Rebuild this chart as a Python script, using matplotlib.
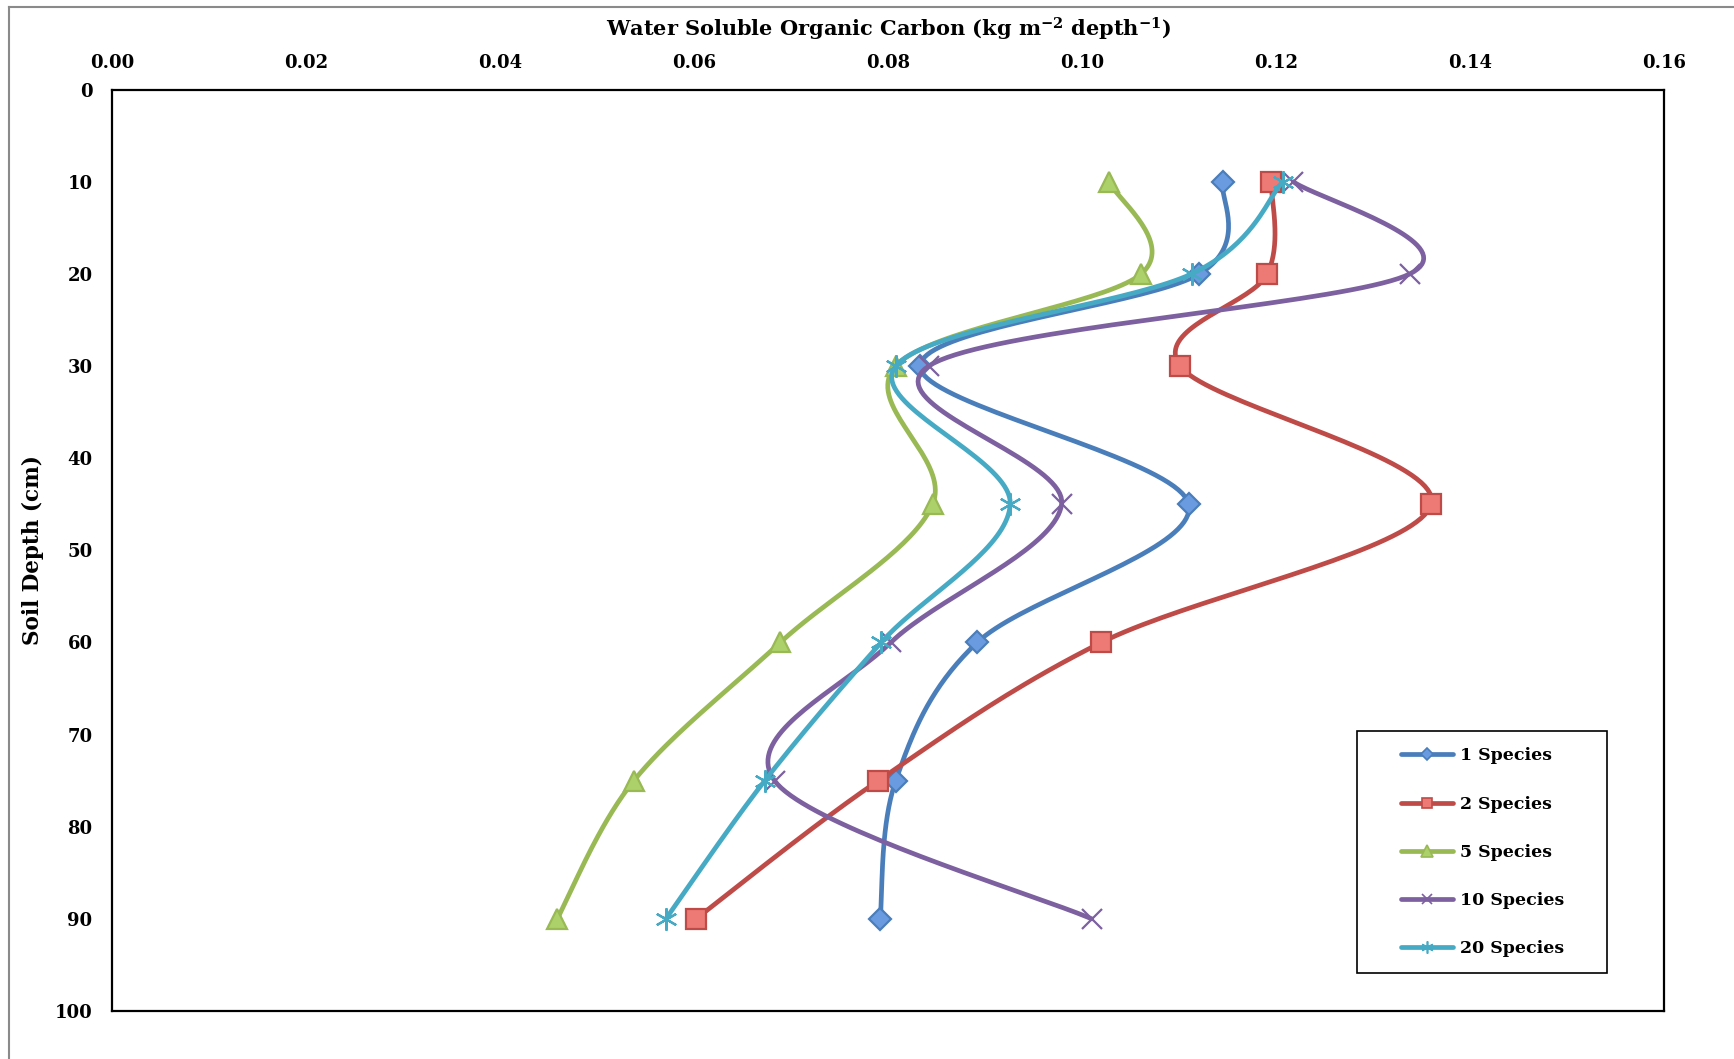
import numpy as np
import matplotlib
matplotlib.use("Agg")
import matplotlib.pyplot as plt
from matplotlib.lines import Line2D
from matplotlib.patches import Rectangle

# Data
depth = [10, 20, 30, 45, 60, 75, 90]
sp1 = [0.1145, 0.1121, 0.0833, 0.1110, 0.0892, 0.0808, 0.0792]
sp2 = [0.1195, 0.1191, 0.1101, 0.1360, 0.1020, 0.0790, 0.0602]
sp5 = [0.1028, 0.1061, 0.0808, 0.0846, 0.0689, 0.0538, 0.0459]
sp10 = [0.1218, 0.1338, 0.0842, 0.0979, 0.0803, 0.0683, 0.1010]
sp20 = [0.1207, 0.1113, 0.0808, 0.0926, 0.0793, 0.0673, 0.0571]
labels = ["1 Species", "2 Species", "5 Species", "10 Species", "20 Species"]

plt.rcParams['font.family'] = ['DejaVu Serif']
plt.rcParams['font.weight'] = 'bold'
plt.rcParams['mathtext.fontset'] = 'dejavuserif'

W, H = 1734, 1059
fig = plt.figure(figsize=(W / 100, H / 100), dpi=100)
ax = fig.add_axes([112 / W, 1 - 1011 / H, (1664 - 112) / W, (1011 - 89.6) / H])
ax.set_xlim(0, 0.16)
ax.set_ylim(100, 0)


def smooth(xs, ys, n=40):
    """Excel-like smoothed line (Catmull-Rom bezier in screen space)"""
    pts = ax.transData.transform(np.column_stack([xs, ys]))
    P = np.vstack([pts[0], pts, pts[-1]])
    t = np.linspace(0, 1, n)[:, None]
    segs = []
    for i in range(1, len(P) - 2):
        p0, p1, p2, p3 = P[i - 1], P[i], P[i + 1], P[i + 2]
        c1 = p1 + (p2 - p0) / 6
        c2 = p2 - (p3 - p1) / 6
        segs.append((1 - t) ** 3 * p1 + 3 * (1 - t) ** 2 * t * c1
                    + 3 * (1 - t) * t ** 2 * c2 + t ** 3 * p2)
    curve = ax.transData.inverted().transform(np.vstack(segs))
    return curve[:, 0], curve[:, 1]


series = [sp1, sp2, sp5, sp10, sp20]
line_cols = ['#4A7EBB', '#BE4B48', '#98B954', '#7D60A0', '#46AAC5']
face_cols = ['#6A9BE0', '#EE7A76', '#ADD16A', '#7D60A0', '#46AAC5']
markers = ['D', 's', '^', 'x', (6, 2, 0)]
msizes = [11, 14, 14.5, 14, 16]

handles = []
for i, vals in enumerate(series):
    sx, sy = smooth(vals, depth)
    ax.plot(sx, sy, color=line_cols[i], lw=3.4, solid_capstyle='round',
            zorder=2 + i)
    ax.plot(vals, depth, ls='none', marker=markers[i], ms=msizes[i],
            mfc=face_cols[i], mec=line_cols[i], mew=1.6, zorder=2 + i)
    handles.append(Line2D([], [], color=line_cols[i], lw=3.4,
                          solid_capstyle='round', marker=markers[i],
                          ms=msizes[i] * 0.55, mfc=face_cols[i],
                          mec=line_cols[i], mew=1.2))

ax.set_xticks(np.arange(0, 0.161, 0.02))
ax.set_xticklabels([f"{v:.2f}" for v in np.arange(0, 0.161, 0.02)])
ax.set_yticks(np.arange(0, 101, 10))
ax.xaxis.tick_top()
ax.tick_params(axis='both', length=0, labelsize=13)
ax.tick_params(axis='x', pad=12.5)
ax.tick_params(axis='y', pad=14)
for lab in ax.get_xticklabels() + ax.get_yticklabels():
    lab.set_fontweight('bold')
for s in ax.spines.values():
    s.set_linewidth(1.6)

ax.xaxis.set_label_position('top')
ax.set_xlabel(r'Water Soluble Organic Carbon (kg m$^{\mathbf{-2}}$ depth$^{\mathbf{-1}}$)',
              fontsize=15, fontweight='bold')
ax.xaxis.set_label_coords(0.5, 1.065)
ax.xaxis.label.set_va('center')
ax.set_ylabel('Soil Depth (cm)', fontsize=15.5, fontweight='bold')
ax.yaxis.set_label_coords(-0.0509, 0.5)
ax.yaxis.label.set_va('center')

# legend box
ax.add_patch(Rectangle((0.802, 0.041), 0.161, 0.263, transform=ax.transAxes,
                       fill=False, ec='black', lw=1.2, zorder=10))
ax.legend(handles, labels, loc='upper left', bbox_to_anchor=(0.8305, 0.286),
          frameon=False, borderpad=0, borderaxespad=0, handlelength=3.0,
          handletextpad=0.4, labelspacing=1.8,
          prop={'family': 'DejaVu Serif', 'weight': 'bold', 'size': 12.5})

# outer chart-area border (only top and left visible)
gray = '#8A8A8A'
fig.add_artist(Line2D([9 / W, 9 / W], [0, 1 - 7 / H], transform=fig.transFigure,
                      color=gray, lw=1.5))
fig.add_artist(Line2D([9 / W, 1], [1 - 7 / H, 1 - 7 / H], transform=fig.transFigure,
                      color=gray, lw=1.5))

fig.savefig('out.png', dpi=100)
